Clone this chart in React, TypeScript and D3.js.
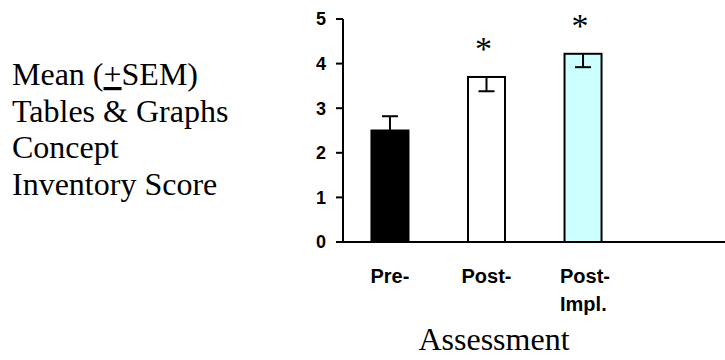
import React from "react";
import * as d3 from "d3";

// Assessment groups and their mean scores with standard error
const categories = ["Pre-", "Post-", "Post-Impl."];
const labelLines = [["Pre-"], ["Post-"], ["Post-", "Impl."]];
const means = [2.5, 3.7, 4.22];
const sems = [0.32, 0.32, 0.3];
const significant = [false, true, true];
const fills = ["#000000", "#ffffff", "#ccffff"];
const yTicks = [0, 1, 2, 3, 4, 5];
const titleLines = ["Tables & Graphs", "Concept", "Inventory Score"];

const W = 725;
const H = 360;
const axisX = 343;
const axisRight = 725;
const y0 = 242;
const y5 = 19;

export default function App() {
  const y = d3.scaleLinear().domain([0, 5]).range([y0, y5]);
  const x = d3
    .scaleBand<string>()
    .domain(categories)
    .range([342.5, 630.5])
    .paddingInner(0.6166)
    .paddingOuter(0.3);
  const bw = x.bandwidth();
  const sans = "Arial, 'Liberation Sans', sans-serif";
  const serif = "'Times New Roman', 'Liberation Serif', serif";

  return (
    <svg
      width={W}
      height={H}
      style={{ position: "fixed", left: 0, top: 0, background: "#fff" }}
    >
      {/* left-hand description of the measure */}
      <text x={12} y={85} fontFamily={serif} fontSize={32} fill="#000">
        <tspan>Mean (</tspan>
        <tspan textDecoration="underline">+</tspan>
        <tspan>SEM)</tspan>
      </text>
      {titleLines.map((t, i) => (
        <text
          key={t}
          x={12}
          y={85 + (i + 1) * 36.5}
          fontFamily={serif}
          fontSize={32}
          fill="#000"
        >
          {t}
        </text>
      ))}

      {/* bars */}
      {categories.map((c, i) => {
        const bx = x(c)!;
        const cx = bx + bw / 2;
        const top = y(means[i]);
        const errY = i === 0 ? y(means[i] + sems[i]) : y(means[i] - sems[i]);
        return (
          <g key={c}>
            <rect
              x={bx}
              y={top}
              width={bw}
              height={y0 - top}
              fill={fills[i]}
              stroke="#000"
              strokeWidth={2}
            />
            <line x1={cx} x2={cx} y1={top} y2={errY} stroke="#000" strokeWidth={2} />
            <line x1={cx - 8} x2={cx + 8} y1={errY} y2={errY} stroke="#000" strokeWidth={2} />
            {significant[i] && (
              <text
                x={cx - 3}
                y={y(means[i] + sems[i]) - 3}
                textAnchor="middle"
                fontFamily={serif}
                fontSize={34}
                fill="#000"
              >
                *
              </text>
            )}
          </g>
        );
      })}

      {/* y axis */}
      <line x1={axisX} x2={axisX} y1={y5} y2={y0} stroke="#000" strokeWidth={2} />
      {yTicks.map((t) => (
        <g key={t}>
          <line x1={axisX - 7} x2={axisX} y1={y(t)} y2={y(t)} stroke="#000" strokeWidth={2} />
          <text
            x={326}
            y={y(t)}
            dy="0.36em"
            textAnchor="end"
            fontFamily={sans}
            fontWeight="bold"
            fontSize={18}
            fill="#000"
          >
            {t}
          </text>
        </g>
      ))}

      {/* x axis */}
      <line x1={axisX} x2={axisRight} y1={y0} y2={y0} stroke="#000" strokeWidth={2} />
      {categories.map((c, i) => {
        const lines = labelLines[i];
        const cx = x(c)! + bw / 2;
        const multi = lines.length > 1;
        const lx = multi ? cx - 23 : cx;
        return (
          <text
            key={c}
            x={lx}
            textAnchor={multi ? "start" : "middle"}
            fontFamily={sans}
            fontWeight="bold"
            fontSize={20}
            fill="#000"
          >
            {lines.map((l, j) => (
              <tspan key={j} x={lx} y={283 + j * 28}>
                {l}
              </tspan>
            ))}
          </text>
        );
      })}

      <text
        x={494}
        y={350}
        textAnchor="middle"
        fontFamily={serif}
        fontSize={32}
        fill="#000"
      >
        Assessment
      </text>
    </svg>
  );
}
